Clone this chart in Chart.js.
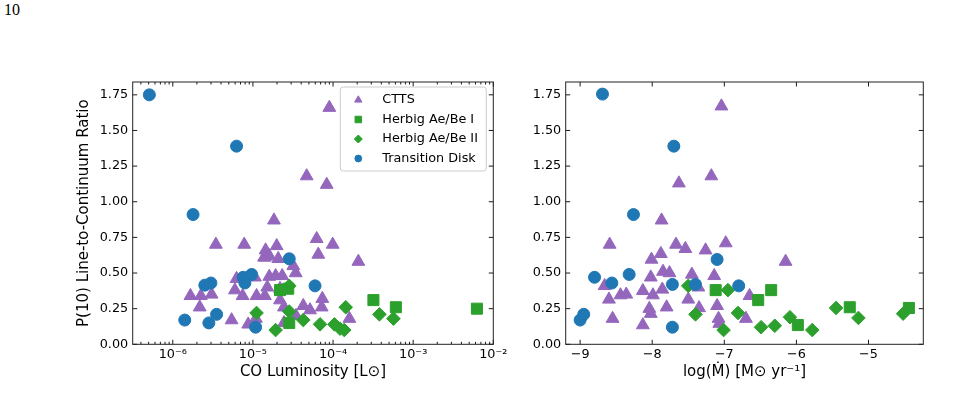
<!DOCTYPE html>
<html>
<head>
    <title>P(10) line-to-continuum ratio</title>
    <script src="https://cdn.jsdelivr.net/npm/chart.js"></script>
    <style>
        body { margin: 0; background: #fff; }
        #page { position: absolute; left: 4px; top: 1px; font-family: 'Liberation Serif', 'DejaVu Serif', serif; font-size: 16px; }
        .panel { position: absolute; top: 0; height: 404px; }
    </style>
</head>
<body>
    <div id="page">10</div>
    <div class="panel" style="left:0; width:520px;"><canvas id="lumChart"></canvas></div>
    <div class="panel" style="left:520px; width:449px;"><canvas id="mdotChart"></canvas></div>

    <script>
        // tick labels
        const ratioTicks = [0, 0.25, 0.5, 0.75, 1.0, 1.25, 1.5, 1.75];
        const lumTicks = [1e-6, 1e-5, 1e-4, 1e-3, 1e-2];
        const lumTickLabels = ['10⁻⁶', '10⁻⁵', '10⁻⁴', '10⁻³', '10⁻²'];
        const mdotTicks = [-9, -8, -7, -6, -5];

        // left panel: CO luminosity [Lsun] vs ratio
        const ttsLum = [8.99e-5, 4.69e-5, 8.34e-5, 1.83e-5, 3.45e-6, 7.79e-6, 1.44e-5, 1.98e-5, 6.25e-5, 9.9e-5,
            6.55e-5, 2.07e-4, 1.38e-5, 1.6e-5, 2.07e-5, 3.19e-5, 3.42e-5, 1.06e-5, 6.25e-6, 1.6e-5,
            1.92e-5, 2.32e-5, 1.51e-5, 2.18e-5, 5.96e-6, 7.43e-6, 3.05e-6, 2.24e-6, 1.66e-6, 1.11e-5,
            1.41e-5, 2.17e-6, 5.42e-6, 8.73e-6, 1.09e-5, 2.18e-5, 2.44e-5, 3.45e-5, 4.25e-5, 5.16e-5,
            7.35e-5, 7.22e-5, 1.6e-4, 2.44e-5, 1.41e-5];
        const ttsLumRatio = [1.66, 1.18, 1.12, 0.87, 0.70, 0.70, 0.66, 0.69, 0.74, 0.70,
            0.63, 0.58, 0.61, 0.62, 0.60, 0.55, 0.50, 0.47, 0.46, 0.475,
            0.48, 0.48, 0.40, 0.39, 0.38, 0.34, 0.35, 0.34, 0.34, 0.34,
            0.34, 0.26, 0.17, 0.14, 0.18, 0.31, 0.26, 0.20, 0.27, 0.24,
            0.32, 0.26, 0.18, 0.15, 0.61];
        const hb1Lum = [3.19e-4, 6.08e-4, 6.25e-3, 2.84e-5, 2.18e-5, 2.76e-5];
        const hb1LumRatio = [0.31, 0.26, 0.25, 0.15, 0.38, 0.39];
        const hb2Lum = [2.84e-5, 1.11e-5, 2.84e-5, 4.25e-5, 1.92e-5, 6.88e-5, 1.04e-4, 1.38e-4, 1.44e-4, 3.79e-4, 5.67e-4, 1.22e-4];
        const hb2LumRatio = [0.41, 0.22, 0.23, 0.17, 0.10, 0.14, 0.14, 0.10, 0.26, 0.21, 0.18, 0.11];
        const tdLum = [5.1e-7, 6.25e-6, 1.79e-6, 2.51e-6, 2.99e-6, 1.41e-6, 2.82e-6, 3.52e-6, 7.57e-6, 7.94e-6, 9.64e-6, 1.08e-5, 2.84e-5, 5.96e-5];
        const tdLumRatio = [1.75, 1.39, 0.91, 0.415, 0.43, 0.17, 0.15, 0.21, 0.47, 0.43, 0.49, 0.12, 0.60, 0.41];

        // right panel: log accretion rate vs ratio
        const ttsMdot = [-7.04, -7.18, -7.63, -7.87, -8.59, -7.67, -7.54, -7.26, -6.98, -7.88,
            -8.01, -6.15, -7.85, -7.76, -8.02, -7.14, -7.45, -8.66, -8.13, -7.86,
            -7.36, -7.99, -8.44, -8.36, -6.65, -8.60, -7.50, -7.10, -7.80, -7.35,
            -8.04, -8.02, -8.55, -7.08, -6.70, -8.13, -7.07];
        const ttsMdotRatio = [1.67, 1.18, 1.13, 0.87, 0.70, 0.70, 0.67, 0.66, 0.71, 0.635,
            0.595, 0.58, 0.51, 0.50, 0.47, 0.48, 0.49, 0.41, 0.375, 0.385,
            0.40, 0.345, 0.345, 0.35, 0.34, 0.315, 0.315, 0.27, 0.26, 0.255,
            0.25, 0.215, 0.18, 0.18, 0.18, 0.135, 0.145];
        const hb1Mdot = [-7.12, -6.35, -6.53, -5.26, -4.44, -5.98];
        const hb1MdotRatio = [0.38, 0.38, 0.31, 0.26, 0.255, 0.135];
        const hb2Mdot = [-7.50, -6.95, -7.40, -6.81, -7.01, -6.49, -6.30, -6.09, -5.78, -5.45, -5.14, -4.52];
        const hb2MdotRatio = [0.41, 0.38, 0.21, 0.22, 0.10, 0.12, 0.13, 0.19, 0.10, 0.255, 0.185, 0.215];
        const tdMdot = [-8.69, -7.70, -8.26, -9.00, -8.95, -8.80, -8.56, -8.32, -7.72, -7.72, -7.40, -7.10, -6.80];
        const tdMdotRatio = [1.755, 1.39, 0.91, 0.17, 0.21, 0.47, 0.43, 0.49, 0.42, 0.12, 0.42, 0.595, 0.41];

        const PURPLE = '#9467bd', GREEN = '#2ca02c', BLUE = '#1f77b4';
        const SANS = 'DejaVu Sans';
        const tickFont = { family: SANS, size: 12.8 };
        const titleFont = { family: SANS, size: 15 };

        function pts(xs, ys) {
            return xs.map((x, i) => ({ x: x, y: ys[i] }));
        }

        function datasets(tts, hb1, hb2, td) {
            return [
                { label: 'CTTS', data: tts, pointStyle: 'triangle', pointRadius: 7.4, backgroundColor: PURPLE, borderColor: PURPLE, borderWidth: 1, order: 4, legendRadius: 4.2 },
                { label: 'Herbig Ae/Be I', data: hb1, pointStyle: 'rect', pointRadius: 7.8, backgroundColor: GREEN, borderColor: GREEN, borderWidth: 1, order: 3, legendRadius: 4.6 },
                { label: 'Herbig Ae/Be II', data: hb2, pointStyle: 'rectRot', pointRadius: 6.8, backgroundColor: GREEN, borderColor: GREEN, borderWidth: 1, order: 2, legendRadius: 4 },
                { label: 'Transition Disk', data: td, pointStyle: 'circle', pointRadius: 6, backgroundColor: BLUE, borderColor: BLUE, borderWidth: 1, order: 1, legendRadius: 3.4 }
            ];
        }

        // matplotlib style: frame on all sides, ticks pointing in
        const innerTicks = {
            id: 'innerTicks',
            afterDatasetsDraw(chart) {
                const { ctx, chartArea: a, scales: { x, y } } = chart;
                ctx.save();
                ctx.strokeStyle = '#000';
                ctx.lineWidth = 0.9;
                const line = (x1, y1, x2, y2) => { ctx.beginPath(); ctx.moveTo(x1, y1); ctx.lineTo(x2, y2); ctx.stroke(); };
                const major = 4.5, minor = 2.5;
                x.ticks.forEach(t => {
                    const px = x.getPixelForValue(t.value);
                    line(px, a.bottom, px, a.bottom - major);
                    line(px, a.top, px, a.top + major);
                });
                if (x.type === 'logarithmic') {
                    for (let e = Math.floor(Math.log10(x.min)); e < Math.log10(x.max); e++) {
                        for (let k = 2; k < 10; k++) {
                            const v = k * Math.pow(10, e);
                            if (v < x.min || v > x.max) continue;
                            const px = x.getPixelForValue(v);
                            line(px, a.bottom, px, a.bottom - minor);
                            line(px, a.top, px, a.top + minor);
                        }
                    }
                }
                y.ticks.forEach(t => {
                    const py = y.getPixelForValue(t.value);
                    line(a.left, py, a.left + major, py);
                    line(a.right, py, a.right - major, py);
                });
                ctx.lineWidth = 1;
                ctx.strokeStyle = '#222';
                ctx.strokeRect(a.left, a.top, a.right - a.left, a.bottom - a.top);
                ctx.restore();
            }
        };

        // legend box inside the upper right corner of the axes
        const boxLegend = {
            id: 'boxLegend',
            afterDraw(chart, args, opts) {
                if (!opts.show) return;
                const { ctx, chartArea: a } = chart;
                const w = 146, h = 84;
                const left = a.right - 7 - w, top = a.top + 5;
                ctx.save();
                ctx.fillStyle = 'rgba(255,255,255,0.8)';
                ctx.strokeStyle = '#cccccc';
                ctx.lineWidth = 1;
                ctx.beginPath();
                ctx.roundRect(left, top, w, h, 3);
                ctx.fill();
                ctx.stroke();
                ctx.font = '12.8px "' + SANS + '"';
                ctx.textBaseline = 'middle';
                chart.data.datasets.forEach((ds, i) => {
                    const cy = top + 13 + i * 19.5;
                    ctx.fillStyle = ds.backgroundColor;
                    ctx.strokeStyle = ds.borderColor;
                    Chart.helpers.drawPoint(ctx, { pointStyle: ds.pointStyle, radius: ds.legendRadius, rotation: 0, borderWidth: 1 }, left + 18, cy);
                    ctx.fillStyle = '#000';
                    ctx.fillText(ds.label, left + 42, cy);
                });
                ctx.restore();
            }
        };

        function yScale(width, showTitle) {
            return {
                min: 0,
                max: 1.84,
                afterBuildTicks: s => { s.ticks = ratioTicks.map(v => ({ value: v })); },
                afterFit: s => { s.width = width; },
                grid: { display: false, drawTicks: false },
                border: { display: false },
                ticks: { padding: 4.5, color: '#000', font: tickFont, callback: v => v.toFixed(2) },
                title: { display: showTitle, text: 'P(10) Line-to-Continuum Ratio', color: '#000', font: titleFont, padding: { top: 75, bottom: 0 } }
            };
        }

        const common = {
            responsive: true,
            maintainAspectRatio: false,
            animation: false,
            events: []
        };

        new Chart(document.getElementById('lumChart').getContext('2d'), {
            type: 'scatter',
            data: {
                datasets: datasets(pts(ttsLum, ttsLumRatio), pts(hb1Lum, hb1LumRatio), pts(hb2Lum, hb2LumRatio), pts(tdLum, tdLumRatio))
            },
            options: Object.assign({}, common, {
                layout: { padding: { top: 82, right: 26.7, bottom: 0, left: 0 } },
                plugins: { legend: { display: false }, tooltip: { enabled: false }, boxLegend: { show: true } },
                scales: {
                    x: {
                        type: 'logarithmic',
                        min: 3.16e-7,
                        max: 1e-2,
                        afterBuildTicks: s => { s.ticks = lumTicks.map(v => ({ value: v })); },
                        afterFit: s => { s.height = 59.7; },
                        grid: { display: false, drawTicks: false },
                        border: { display: false },
                        ticks: { padding: 3, autoSkip: false, maxRotation: 0, color: '#000', font: tickFont,
                            callback: (v, i) => lumTickLabels[i] },
                        title: { display: true, text: 'CO Luminosity [L⊙]', color: '#000', font: titleFont, padding: { top: 0, bottom: 23 } }
                    },
                    y: yScale(132.7, true)
                }
            }),
            plugins: [innerTicks, boxLegend]
        });

        new Chart(document.getElementById('mdotChart').getContext('2d'), {
            type: 'scatter',
            data: {
                datasets: datasets(pts(ttsMdot, ttsMdotRatio), pts(hb1Mdot, hb1MdotRatio), pts(hb2Mdot, hb2MdotRatio), pts(tdMdot, tdMdotRatio))
            },
            options: Object.assign({}, common, {
                layout: { padding: { top: 82, right: 45.7, bottom: 0, left: 0 } },
                plugins: { legend: { display: false }, tooltip: { enabled: false }, boxLegend: { show: false } },
                scales: {
                    x: {
                        type: 'linear',
                        min: -9.2,
                        max: -4.24,
                        afterBuildTicks: s => { s.ticks = mdotTicks.map(v => ({ value: v })); },
                        afterFit: s => { s.height = 59.7; },
                        grid: { display: false, drawTicks: false },
                        border: { display: false },
                        ticks: { padding: 3, autoSkip: false, maxRotation: 0, color: '#000', font: tickFont,
                            callback: v => String(v).replace('-', '\u2212') },
                        title: { display: true, text: 'log(Ṁ) [M⊙ yr⁻¹]', color: '#000', font: titleFont, padding: { top: 0, bottom: 23 } }
                    },
                    y: yScale(45.7, false)
                }
            }),
            plugins: [innerTicks, boxLegend]
        });
    </script>
</body>
</html>
